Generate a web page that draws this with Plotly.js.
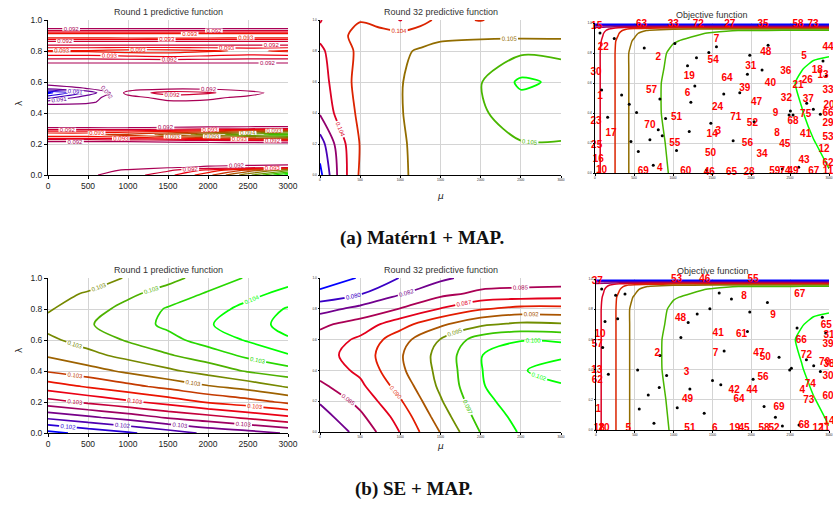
<!DOCTYPE html>
<html><head><meta charset="utf-8">
<script src="https://cdn.plot.ly/plotly-3.0.1.min.js"></script>
<style>html,body{margin:0;padding:0;background:#fff}#chart{width:833px;height:508px}</style>
</head><body><div id="chart"></div>
<script>
// ---------- Panel 1: Matérn1, round 1 predictive function ----------
var p1X = [0, 500, 1000, 1500, 2000, 2500, 3000];
var p1Y = [0.00, 0.03, 0.05, 0.08, 0.20, 0.22, 0.24, 0.26, 0.28, 0.30, 0.32, 0.44, 0.47, 0.50, 0.53, 0.56, 0.60, 0.70, 0.73, 0.76, 0.80, 0.83, 0.85, 0.87, 0.89, 0.91, 0.93, 0.95, 1.00];
var p1Z = [
  [0.09180, 0.09195, 0.09215, 0.09250, 0.09310, 0.09400, 0.09510],
  [0.09185, 0.09185, 0.09205, 0.09225, 0.09270, 0.09330, 0.09400],
  [0.09185, 0.09185, 0.09185, 0.09195, 0.09205, 0.09210, 0.09215],
  [0.09185, 0.09185, 0.09185, 0.09185, 0.09185, 0.09185, 0.09185],
  [0.09185, 0.09185, 0.09185, 0.09185, 0.09185, 0.09185, 0.09185],
  [0.09205, 0.09205, 0.09205, 0.09210, 0.09215, 0.09220, 0.09225],
  [0.09270, 0.09270, 0.09280, 0.09295, 0.09315, 0.09345, 0.09370],
  [0.09315, 0.09315, 0.09330, 0.09360, 0.09395, 0.09430, 0.09455],
  [0.09270, 0.09270, 0.09280, 0.09295, 0.09315, 0.09345, 0.09370],
  [0.09205, 0.09205, 0.09205, 0.09210, 0.09215, 0.09220, 0.09225],
  [0.09185, 0.09185, 0.09185, 0.09185, 0.09185, 0.09185, 0.09185],
  [0.09185, 0.09185, 0.09185, 0.09185, 0.09185, 0.09185, 0.09185],
  [0.09155, 0.09165, 0.09190, 0.09195, 0.09195, 0.09190, 0.09185],
  [0.09100, 0.09160, 0.09190, 0.09210, 0.09205, 0.09195, 0.09185],
  [0.09040, 0.09120, 0.09210, 0.09245, 0.09235, 0.09210, 0.09185],
  [0.09155, 0.09172, 0.09185, 0.09190, 0.09190, 0.09185, 0.09185],
  [0.09185, 0.09185, 0.09185, 0.09185, 0.09185, 0.09185, 0.09185],
  [0.09185, 0.09185, 0.09185, 0.09185, 0.09185, 0.09185, 0.09185],
  [0.09205, 0.09205, 0.09205, 0.09205, 0.09205, 0.09205, 0.09205],
  [0.09245, 0.09245, 0.09250, 0.09255, 0.09250, 0.09245, 0.09245],
  [0.09295, 0.09295, 0.09305, 0.09305, 0.09295, 0.09285, 0.09295],
  [0.09245, 0.09245, 0.09245, 0.09245, 0.09245, 0.09245, 0.09245],
  [0.09205, 0.09205, 0.09205, 0.09205, 0.09205, 0.09205, 0.09205],
  [0.09245, 0.09245, 0.09245, 0.09245, 0.09245, 0.09245, 0.09245],
  [0.09305, 0.09305, 0.09310, 0.09315, 0.09310, 0.09305, 0.09305],
  [0.09295, 0.09295, 0.09295, 0.09295, 0.09295, 0.09295, 0.09295],
  [0.09235, 0.09235, 0.09235, 0.09235, 0.09235, 0.09235, 0.09235],
  [0.09185, 0.09185, 0.09185, 0.09185, 0.09185, 0.09185, 0.09185],
  [0.09185, 0.09185, 0.09185, 0.09185, 0.09185, 0.09185, 0.09185]
];

// ---------- Panel 2: Matérn1, round 32 predictive function ----------
var p2X = [0, 250, 500, 750, 1000, 1250, 1500, 2000, 2500, 3000];
var p2Y = [0, 0.2, 0.4, 0.6, 0.8, 0.9, 1.0];
var p2Z = [
  [0.10354, 0.10408, 0.10443, 0.10450, 0.10458, 0.10463, 0.10468, 0.10476, 0.10478, 0.10478],
  [0.10370, 0.10412, 0.10441, 0.10454, 0.10458, 0.10464, 0.10470, 0.10476, 0.10479, 0.10478],
  [0.10402, 0.10428, 0.10444, 0.10454, 0.10459, 0.10466, 0.10472, 0.10478, 0.10488, 0.10498],
  [0.10410, 0.10432, 0.10446, 0.10454, 0.10459, 0.10466, 0.10472, 0.10479, 0.10504, 0.10496],
  [0.10416, 0.10432, 0.10444, 0.10452, 0.10457, 0.10462, 0.10466, 0.10472, 0.10476, 0.10474],
  [0.10424, 0.10436, 0.10446, 0.10450, 0.10448, 0.10452, 0.10456, 0.10456, 0.10456, 0.10456],
  [0.10419, 0.10430, 0.10439, 0.10430, 0.10419, 0.10432, 0.10446, 0.10439, 0.10450, 0.10452]
];

// ---------- Panel 4: SE, round 1 predictive function ----------
var p4X = [0, 500, 1000, 1500, 2000, 2500, 3000];
var p4Y = [0, 0.1, 0.2, 0.3, 0.4, 0.5, 0.6, 0.7, 0.8, 0.9, 1.0];
var p4Z = [
  [0.10219, 0.10225, 0.102305, 0.10237, 0.10244, 0.10248, 0.10253],
  [0.10244, 0.10250, 0.10256, 0.10263, 0.10268, 0.10274, 0.10280],
  [0.10268, 0.10274, 0.10280, 0.10286, 0.10293, 0.10298, 0.10304],
  [0.10287, 0.10293, 0.10299, 0.10305, 0.10311, 0.10316, 0.10323],
  [0.10303, 0.10308, 0.10314, 0.10320, 0.10326, 0.10333, 0.10338],
  [0.10313, 0.10319, 0.10325, 0.10331, 0.10337, 0.10344, 0.10351],
  [0.10320, 0.10326, 0.10333, 0.10339, 0.10346, 0.10353, 0.10361],
  [0.10325, 0.10331, 0.103375, 0.10344, 0.10351, 0.10358, 0.10365],
  [0.10321, 0.10328, 0.10335, 0.10343, 0.10348, 0.10355, 0.10363],
  [0.10318, 0.10323, 0.10330, 0.10336, 0.10343, 0.10349, 0.10355],
  [0.10313, 0.10316, 0.10323, 0.10329, 0.10336, 0.10343, 0.10348]
];

// ---------- Panel 5: SE, round 32 predictive function ----------
var p5X = [0, 500, 1000, 1500, 2000, 2500, 3000];
var p5Y = [0, 0.1, 0.2, 0.3, 0.4, 0.5, 0.6, 0.7, 0.8, 0.9, 1.0];
var p5Z = [
  [0.08020, 0.08295, 0.08730, 0.09230, 0.09730, 0.09995, 0.10045],
  [0.08120, 0.08420, 0.08820, 0.09345, 0.09820, 0.10045, 0.10095],
  [0.08245, 0.08545, 0.08945, 0.09445, 0.09895, 0.10095, 0.10170],
  [0.08420, 0.08670, 0.09070, 0.09520, 0.09945, 0.10170, 0.102075],
  [0.08570, 0.08770, 0.09170, 0.09545, 0.099575, 0.102075, 0.102825],
  [0.08620, 0.088325, 0.09195, 0.095575, 0.099575, 0.10195, 0.10195],
  [0.085575, 0.08770, 0.09120, 0.09480, 0.09845, 0.09945, 0.09920],
  [0.08420, 0.08570, 0.08870, 0.09170, 0.09420, 0.09520, 0.09495],
  [0.08120, 0.08295, 0.08480, 0.08730, 0.08945, 0.09045, 0.09045],
  [0.07795, 0.07945, 0.08195, 0.08395, 0.08520, 0.08545, 0.08570],
  [0.07520, 0.07745, 0.07980, 0.08170, 0.08320, 0.08345, 0.08345]
];

// ---------- Objective function (same surface in both rows), in level units ----------
var objX = [0, 100, 200, 300, 400, 500, 700, 1000, 1500, 2000, 2400, 2650, 2800, 3000];
var objY = [0, 0.2, 0.4, 0.6, 0.7, 0.8, 0.88, 0.93, 0.95, 0.96, 0.97, 0.98, 0.99, 1.0];
var objZ = [
  [2.6, 3.2, 3.6, 4.3, 4.9, 5.2, 5.6, 6.1, 6.4, 6.5, 6.6, 6.7, 6.85, 6.95],
  [2.6, 3.2, 3.6, 4.3, 4.9, 5.2, 5.6, 6.2, 6.4, 6.5, 6.6, 6.75, 6.95, 7.3],
  [2.6, 3.2, 3.6, 4.3, 4.9, 5.2, 5.7, 6.3, 6.4, 6.5, 6.6, 6.95, 7.3, 7.4],
  [2.6, 3.2, 3.6, 4.3, 4.9, 5.2, 5.7, 6.3, 6.4, 6.5, 6.6, 7.2, 7.4, 7.4],
  [2.6, 3.2, 3.6, 4.3, 4.9, 5.2, 5.6, 6.25, 6.4, 6.5, 6.6, 6.95, 7.2, 7.3],
  [2.6, 3.2, 3.6, 4.3, 4.9, 5.2, 5.6, 6.15, 6.4, 6.5, 6.55, 6.7, 6.8, 6.9],
  [2.6, 3.1, 3.6, 4.2, 4.85, 5.05, 5.5, 5.95, 6.3, 6.45, 6.5, 6.6, 6.7, 6.8],
  [2.5, 2.95, 3.5, 3.95, 4.6, 4.9, 5.3, 5.8, 6.05, 6.3, 6.4, 6.45, 6.5, 6.55],
  [2.4, 2.8, 3.3, 3.7, 4.3, 4.6, 5.1, 5.6, 5.9, 6.05, 6.1, 6.15, 6.2, 6.2],
  [2.3, 2.6, 3.1, 3.5, 3.95, 4.3, 4.6, 4.9, 4.95, 5.05, 5.05, 5.05, 5.05, 5.05],
  [2.1, 2.2, 2.5, 2.9, 2.95, 3.2, 3.4, 3.5, 3.3, 3.2, 3.1, 3.1, 3.1, 3.1],
  [1.1, 1.1, 1.1, 1.1, 1.1, 1.1, 1.1, 1.1, 1.1, 1.1, 1.1, 1.1, 1.1, 1.1],
  [0.1, 0.1, 0.1, 0.1, 0.1, 0.1, 0.1, 0.1, 0.1, 0.1, 0.1, 0.1, 0.1, 0.1],
  [-0.5, -0.5, -0.5, -0.5, -0.5, -0.5, -0.5, -0.5, -0.5, -0.5, -0.5, -0.5, -0.5, -0.5]
];

// ---------- Panel 3: evaluated points (Matérn1) ----------
var p3Labels = ["15","63","33","72","27","35","58","73","44","7","22","2","54","48","5","31","36","18","13","30","19","64","40","26","21","39","33","57","6","1","32","37","20","47","24","9","66","75","68","23","51","71","70","52","29","17","14","3","8","41","53","55","56","45","25","12","50","34","16","43","62","10","69","4","60","46","65","28","59","74","49","67","11"];
var p3LabelX = [21,597,1003,1323,1728,2155,2603,2795,2987,1557,107,811,1515,2189,2680,1997,2445,2851,2923,13,1208,1694,2249,2722,2603,1920,2987,725,1186,64,2454,2735,3000,2070,1570,2313,2987,2701,2539,13,1045,1805,704,2018,2987,205,1502,1579,2334,2701,2987,1024,1954,2432,21,2936,1481,2142,43,2680,2987,85,619,832,1165,1464,1750,1976,2304,2437,2539,2804,2987];
var p3LabelY = [0.98,0.99,0.99,0.99,0.99,0.99,0.99,0.99,0.84,0.889,0.834,0.768,0.752,0.803,0.774,0.712,0.675,0.684,0.653,0.668,0.646,0.631,0.597,0.619,0.586,0.564,0.549,0.549,0.527,0.513,0.496,0.493,0.451,0.471,0.438,0.394,0.394,0.387,0.343,0.343,0.369,0.372,0.314,0.332,0.327,0.265,0.254,0.277,0.265,0.254,0.237,0.199,0.199,0.192,0.181,0.155,0.128,0.122,0.093,0.084,0.066,0.018,0.011,0.027,0.007,0.004,0.004,0.004,0.007,0.007,0.007,0.011,0.007];
var p3DotX = [64,247,631,1024,1459,1557,1984,2219,1301,1186,2142,1954,2966,2923,85,341,832,1280,1651,1856,439,533,1229,162,905,1485,2040,811,862,1208,704,461,555,1045,1771,747,1430,2402,2611,2505,2539,2488,2714,2799,2889];
var p3DotY = [0.934,0.896,0.834,0.863,0.803,0.841,0.785,0.852,0.768,0.715,0.686,0.659,0.646,0.746,0.553,0.520,0.493,0.580,0.527,0.535,0.458,0.403,0.471,0.372,0.363,0.332,0.341,0.288,0.248,0.277,0.221,0.210,0.144,0.150,0.215,0.051,0.018,0.027,0.038,0.414,0.387,0.387,0.465,0.425,0.392];

// ---------- Panel 6: evaluated points (SE) ----------
var p6Labels = ["37","53","46","55","67","8","9","48","65","41","61","31","10","66","57","39","47","50","2","7","72","70","38","13","3","56","30","62","74","42","44","4","60","49","64","73","69","1","14","68","18","20","5","51","6","19","45","58","52","12","11"];
var p6LabelX = [17,1037,1401,2023,2623,1907,2280,1089,2966,1573,1873,3000,51,2644,17,2987,2096,2181,789,1539,2709,2944,3000,9,1166,2151,2987,17,2760,1779,2010,2657,2987,1179,1843,2739,2357,30,3000,2679,43,103,416,1209,1530,1787,1907,2164,2293,2859,2944];
var p6LabelY = [0.985,0.995,0.995,0.995,0.900,0.885,0.759,0.741,0.690,0.642,0.631,0.624,0.631,0.591,0.564,0.569,0.509,0.482,0.504,0.504,0.493,0.449,0.431,0.392,0.383,0.347,0.354,0.325,0.299,0.259,0.259,0.259,0.221,0.204,0.204,0.197,0.148,0.133,0.055,0.033,0.007,0.007,0.007,0.007,0.011,0.007,0.007,0.007,0.007,0.007,0.007];
var p6DotX = [73,253,373,116,279,1586,1744,2207,1466,1303,1187,1980,1950,1093,1650,823,86,159,536,909,1500,1607,814,1209,673,2023,2357,2589,2709,2803,2889,2494,2516,2914,2957,557,1046,1393,2164,2310,2400,2614,746];
var p6DotY = [0.934,0.892,0.900,0.719,0.737,0.907,0.867,0.845,0.803,0.768,0.712,0.781,0.653,0.613,0.524,0.493,0.546,0.369,0.398,0.361,0.327,0.299,0.281,0.272,0.232,0.336,0.482,0.675,0.465,0.425,0.387,0.398,0.409,0.746,0.642,0.139,0.148,0.111,0.155,0.084,0.027,0.033,0.044];

var titles = ["Round 1 predictive function", "Round 32 predictive function", "Objective function"];
var captions = ["<b>(a) Matérn1 + MAP.</b>", "<b>(b) SE + MAP.</b>"];
var xTicks = [0, 500, 1000, 1500, 2000, 2500, 3000];
var yTicks = [0, 0.2, 0.4, 0.6, 0.8, 1.0];

// ---------- build ----------
var BRG = [[0, 'rgb(0,0,255)'], [0.5, 'rgb(255,0,0)'], [1, 'rgb(0,255,0)']];
var SANS = 'Liberation Sans, Arial, sans-serif';

function contour(x, y, z, n, start, end, size, cmin, cmax, labels, width, smooth) {
  return {
    type: 'contour', x: x, y: y, z: z, xaxis: 'x' + n, yaxis: 'y' + n,
    autocontour: false, zauto: false, zmin: cmin, zmax: cmax,
    contours: {start: start, end: end, size: size, coloring: 'lines',
      showlabels: labels, labelformat: '.3f', labelfont: {family: SANS, size: 6}},
    colorscale: BRG, showscale: false, line: {width: width, smoothing: smooth},
    hoverinfo: 'skip'
  };
}
function dots(x, y, n) {
  return {type: 'scatter', mode: 'markers', x: x, y: y, xaxis: 'x' + n, yaxis: 'y' + n,
    marker: {size: 3, color: '#000'}, hoverinfo: 'skip', cliponaxis: false};
}
function labels(t, x, y, n) {
  return {type: 'scatter', mode: 'text', x: x, y: y, text: t, xaxis: 'x' + n, yaxis: 'y' + n,
    textposition: 'middle center', cliponaxis: false, hoverinfo: 'skip',
    textfont: {family: SANS, size: 10, color: '#ff0000', weight: 'bold'}};
}

var data = [
  contour(p1X, p1Y, p1Z, 1, 0.0905, 0.0950, 0.0003, 0.0905, 0.0955, true, 1.2, 0.8),
  contour(p2X, p2Y, p2Z, 2, 0.1036, 0.1050, 0.0002, 0.1036, 0.1052, true, 1.8, 0.8),
  contour(objX, objY, objZ, 3, 0, 7, 1, 0, 7, false, 1.5, 0.5),
  dots(p3DotX, p3DotY, 3),
  labels(p3Labels, p3LabelX, p3LabelY, 3),
  contour(p4X, p4Y, p4Z, 4, 0.10222, 0.10362, 0.0001, 0.10222, 0.10362, true, 1.7, 1),
  contour(p5X, p5Y, p5Z, 5, 0.0772, 0.1022, 0.0025, 0.0772, 0.1022, true, 1.8, 1),
  contour(objX, objY, objZ, 6, 0, 7, 1, 0, 7, false, 1.5, 0.5),
  dots(p6DotX, p6DotY, 6),
  labels(p6Labels, p6LabelX, p6LabelY, 6)
];

var W = 833, H = 508;
// pixel boxes [left, right, top, bottom]
var boxes = [[48, 288, 20, 175], [320, 561, 20, 175], [595, 829, 23, 173],
             [48, 288, 278, 433], [320, 561, 278, 432], [596, 829, 279, 430]];
var layout = {width: W, height: H, margin: {l: 0, r: 0, t: 0, b: 0},
  paper_bgcolor: '#fff', plot_bgcolor: '#fff', showlegend: false, hovermode: false,
  annotations: []};
boxes.forEach(function (b, i) {
  var n = i + 1, big = (i === 0 || i === 3);
  var fs = big ? 8.5 : 3.2;
  layout['xaxis' + n] = {domain: [b[0] / W, b[1] / W], anchor: 'y' + n, range: [0, 3000],
    tickvals: xTicks, ticktext: xTicks.map(String), showgrid: true, gridcolor: '#d4d4d4', gridwidth: 1,
    zeroline: false, showline: true, linecolor: '#000', linewidth: 1, ticks: 'outside',
    ticklen: big ? 3 : 1.5, tickcolor: '#000', tickfont: {family: SANS, size: fs, color: '#222'}};
  layout['yaxis' + n] = {domain: [1 - b[3] / H, 1 - b[2] / H], anchor: 'x' + n, range: [0, 1],
    tickvals: yTicks, ticktext: yTicks.map(function (v) { return v.toFixed(1); }),
    showgrid: true, gridcolor: '#d4d4d4', gridwidth: 1,
    zeroline: false, showline: true, linecolor: '#000', linewidth: 1, ticks: 'outside',
    ticklen: big ? 3 : 1.5, tickcolor: '#000', tickfont: {family: SANS, size: fs, color: '#222'}};
  layout.annotations.push({xref: 'paper', yref: 'paper', x: (b[0] + b[1]) / 2 / W,
    y: 1 - (b[2] - 8) / H, text: titles[i % 3], showarrow: false, xanchor: 'center', yanchor: 'middle',
    font: {family: SANS, size: 9, color: '#333'}});
});
[[12, 98], [12, 355]].forEach(function (p) {
  layout.annotations.push({xref: 'paper', yref: 'paper', x: p[0] / W, y: 1 - p[1] / H, text: 'λ',
    textangle: -90, showarrow: false, font: {family: 'DejaVu Sans', size: 9, color: '#222'}});
});
[[440, 196], [440, 453]].forEach(function (p) {
  layout.annotations.push({xref: 'paper', yref: 'paper', x: p[0] / W, y: 1 - p[1] / H, text: '<i>μ</i>',
    showarrow: false, font: {family: 'DejaVu Sans', size: 9, color: '#222'}});
});
[[422, 238], [414, 489]].forEach(function (p, i) {
  layout.annotations.push({xref: 'paper', yref: 'paper', x: p[0] / W, y: 1 - p[1] / H, text: captions[i],
    showarrow: false, xanchor: 'center', yanchor: 'middle',
    font: {family: 'Liberation Serif, DejaVu Serif, serif', size: 19, color: '#111'}});
});

Plotly.newPlot('chart', data, layout, {staticPlot: true, displayModeBar: false});
</script></body></html>
